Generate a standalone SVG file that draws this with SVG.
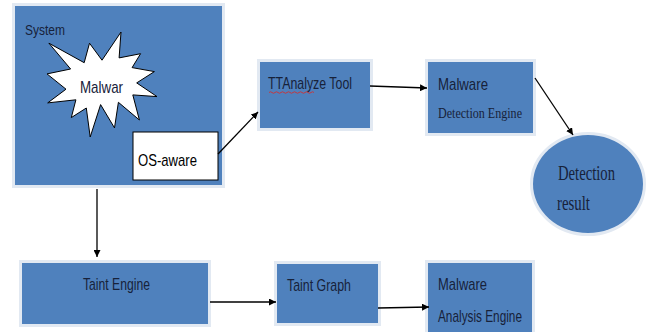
<svg xmlns="http://www.w3.org/2000/svg" width="648" height="332" viewBox="0 0 648 332">
  <style>
    .box { fill: #4f81bd; stroke: #e2e9f2; stroke-width: 6; paint-order: stroke; }
    .sans { font-family: "Liberation Sans", Arial, sans-serif; fill: #17223a; }
    .serif { font-family: "Liberation Serif", "Times New Roman", serif; fill: #17223a; }
    .conn { stroke: #000; stroke-width: 1.3; fill: none; marker-end: url(#arrow); }
  </style>
  <defs>
    <marker id="arrow" viewBox="0 0 10 10" refX="10" refY="5" markerWidth="7" markerHeight="7" markerUnits="userSpaceOnUse" orient="auto">
      <path d="M0,0 L10,5 L0,10 Z" fill="#000"/>
    </marker>
  </defs>
  <rect width="648" height="332" fill="#fff"/>

  <g id="system">
    <rect class="box" x="15" y="6" width="207" height="179"/>
    <text class="sans" x="25" y="35" font-size="15" textLength="40" lengthAdjust="spacingAndGlyphs">System</text>
  </g>

  <g id="malwar">
    <polygon points="102,60.2 121,32 119.1,57.9 140.6,53.7 132.1,67.6 154.4,71.6 136.7,82.9 157,96.6 132.8,94.9 139.4,120 118.4,102.3 114.5,127.9 100.6,104.6 90.2,137 86.3,108 71.3,117.6 75.9,99.8 47.7,102.9 66,89.2 47,73.9 70.6,69 48.9,43.2 84.2,62.7 89.5,43.2" fill="#fff" stroke="#000" stroke-width="1"/>
    <text class="sans" x="80" y="93" font-size="17" textLength="43" lengthAdjust="spacingAndGlyphs">Malwar</text>
  </g>

  <g id="os-aware">
    <rect x="133" y="132" width="85" height="48" fill="#fff" stroke="#000" stroke-width="1"/>
    <text class="sans" x="138" y="166" font-size="17" textLength="59" lengthAdjust="spacingAndGlyphs" style="fill:#000">OS-aware</text>
  </g>

  <g id="ttanalyze">
    <rect class="box" x="260" y="62" width="110" height="66"/>
    <text class="sans" x="268" y="89" font-size="17" textLength="84" lengthAdjust="spacingAndGlyphs">TTAnalyze Tool</text>
    <path d="M269,92.5 q1.5,-1.5 3,0 t3,0 t3,0 t3,0 t3,0 t3,0 t3,0 t3,0 t3,0 t3,0 t3,0 t3,0 t3,0 t3,0 t3,0" fill="none" stroke="#d03030" stroke-width="0.9"/>
  </g>

  <g id="detection-engine">
    <rect class="box" x="428" y="62" width="105" height="71"/>
    <text class="sans" x="438" y="90" font-size="17" textLength="50" lengthAdjust="spacingAndGlyphs">Malware</text>
    <text class="serif" x="438" y="118" font-size="15" textLength="84" lengthAdjust="spacingAndGlyphs">Detection Engine</text>
  </g>

  <g id="detection-result">
    <ellipse cx="588" cy="184" rx="55" ry="49" fill="#4f81bd" stroke="#e2e9f2" stroke-width="6" paint-order="stroke"/>
    <text class="serif" x="558" y="180" font-size="20" textLength="57" lengthAdjust="spacingAndGlyphs">Detection</text>
    <text class="serif" x="557" y="210" font-size="20" textLength="33" lengthAdjust="spacingAndGlyphs">result</text>
  </g>

  <g id="taint-engine">
    <rect class="box" x="22" y="263" width="186" height="61"/>
    <text class="sans" x="83" y="290" font-size="17" textLength="67" lengthAdjust="spacingAndGlyphs">Taint Engine</text>
  </g>

  <g id="taint-graph">
    <rect class="box" x="277" y="264" width="101" height="59"/>
    <text class="sans" x="287" y="291" font-size="17" textLength="64" lengthAdjust="spacingAndGlyphs">Taint Graph</text>
  </g>

  <g id="analysis-engine">
    <rect class="box" x="428" y="263" width="104" height="75"/>
    <text class="sans" x="438" y="290" font-size="17" textLength="49" lengthAdjust="spacingAndGlyphs">Malware</text>
    <text class="sans" x="438" y="322" font-size="17" textLength="84" lengthAdjust="spacingAndGlyphs">Analysis Engine</text>
  </g>

  <g id="connectors">
    <line class="conn" x1="218" y1="154" x2="258" y2="112"/>
    <line class="conn" x1="370" y1="86" x2="427" y2="88"/>
    <line class="conn" x1="535" y1="78" x2="573" y2="135"/>
    <line class="conn" x1="97" y1="189" x2="97" y2="257"/>
    <line class="conn" x1="210" y1="302" x2="276" y2="302"/>
    <line class="conn" x1="378" y1="308" x2="429" y2="307"/>
  </g>
</svg>
